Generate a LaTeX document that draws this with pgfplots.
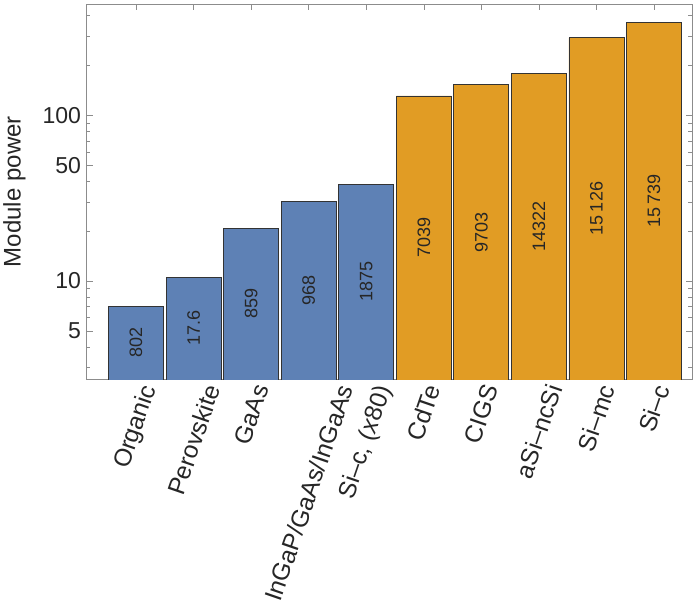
\documentclass[border=0pt]{standalone}
\usepackage{pgfplots}
\pgfplotsset{compat=1.18}
\usepackage{fontspec}
\setmainfont{Liberation Sans}
\definecolor{mblue}{HTML}{5E81B5}
\definecolor{morange}{HTML}{E19C24}
\definecolor{frame}{HTML}{8C8C8C}
\begin{document}
\begin{tikzpicture}
\begin{axis}[
  scale only axis, width=605pt, height=375pt,
  ymode=log, ymin=2.55, ymax=470,
  xmin=-0.86, xmax=9.66,
  axis line style={frame, line width=0.8pt},
  every tick/.style={frame, line width=0.6pt},
  major tick length=6pt, minor tick length=3.5pt,
  ytick={5,10,50,100}, yticklabels={5,10,50,100},
  minor ytick={3,4,6,7,8,9,20,30,40,60,70,80,90,200,300,400},
  yticklabel style={font=\fontsize{23}{23}\selectfont, text=black!85, xshift=-2pt},
  ylabel={Module power}, ylabel shift=10pt,
  ylabel style={font=\fontsize{24}{24}\selectfont, text=black!85},
  xtick={0,...,9},
  xticklabels={
    \rotatebox{71}{Organic},
    \rotatebox{71}{Perovskite},
    \rotatebox{71}{GaAs},
    \rotatebox{71}{InGaP/GaAs/InGaAs},
    \rotatebox{71}{Si–c, (\textit{x}80)},
    \rotatebox{71}{CdTe},
    \rotatebox{71}{CIGS},
    \rotatebox{71}{aSi–ncSi},
    \rotatebox{71}{Si–mc},
    \rotatebox{71}{Si–c}},
  xticklabel style={anchor=north, font=\fontsize{24.5}{24.5}\selectfont, text=black!85},
  xtick align=inside,
]
% thin-film / lab cells
\addplot[ybar, bar width=0.955, bar shift=0pt, fill=mblue, draw=black!80, line width=0.8pt]
  coordinates {(0,7.0) (1,10.5) (2,20.8) (3,30.3) (4,38.4)};
% commercial modules
\addplot[ybar, bar width=0.955, bar shift=0pt, fill=morange, draw=black!80, line width=0.8pt]
  coordinates {(5,131) (6,153) (7,178) (8,294) (9,363)};
% counts written inside the bars
\addplot[draw=none, mark=none, nodes near coords, point meta=explicit symbolic,
  every node near coord/.append style={rotate=90, anchor=center,
    font=\fontsize{18}{18}\selectfont, text=black!85}]
  table[meta=lab] {
x y lab
0 4.23 802
1 5.17 17.6
2 7.28 859
3 8.79 968
4 9.90 1875
5 18.3 7039
6 19.75 9703
7 21.3 14322
8 27.4 15\,126
9 30.4 15\,739
};
\end{axis}
\path ([xshift=7pt, yshift=4pt]current axis.north east);
\end{tikzpicture}
\end{document}
